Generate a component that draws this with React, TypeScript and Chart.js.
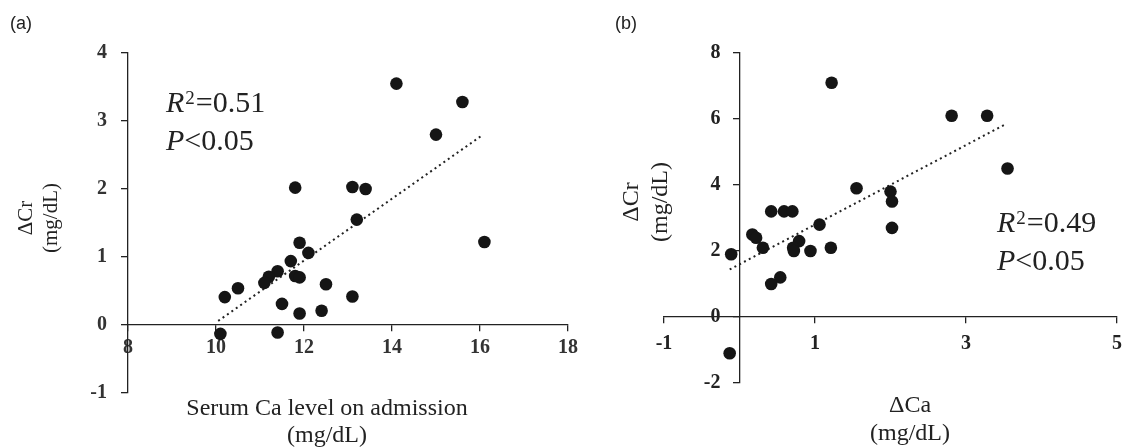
import React, { useEffect, useRef } from 'react';
import { Chart, registerables } from 'chart.js';

Chart.register(...registerables);

// ---------- Panel (a): Serum Ca on admission vs ΔCr ----------
const caAdmission = [11.8, 13.1, 13.4, 13.2, 11.9, 12.1, 11.7, 11.4, 11.2, 11.1, 11.8, 11.9, 10.5, 10.2, 12.5, 13.1, 11.5, 11.9, 12.4, 10.1, 11.4, 14.1, 15.6, 15.0, 16.1];
const crChangeA = [2.02, 2.03, 2.0, 1.55, 1.21, 1.06, 0.94, 0.79, 0.71, 0.62, 0.72, 0.7, 0.54, 0.41, 0.6, 0.42, 0.31, 0.17, 0.21, -0.13, -0.11, 3.55, 3.28, 2.8, 1.22];
const trendAX = [10.05, 16.05];
const trendAY = [0.06, 2.79];
const xTicksA = [8, 10, 12, 14, 16, 18];
const yTicksA = [-1, 0, 1, 2, 3, 4];

// ---------- Panel (b): ΔCa vs ΔCr ----------
const caChange = [1.22, 1.55, 0.42, 0.59, 0.7, 0.17, 0.22, 0.31, 1.06, 0.79, 0.71, 0.72, 0.94, 1.21, -0.11, 0.54, 0.42, -0.13, 2.81, 3.28, 3.55, 2.0, 2.02, 2.02];
const crChangeB = [7.1, 3.9, 3.2, 3.2, 3.2, 2.5, 2.4, 2.1, 2.8, 2.3, 2.1, 2.0, 2.0, 2.1, 1.9, 1.2, 1.0, -1.1, 6.1, 6.1, 4.5, 3.8, 3.5, 2.7];
const trendBX = [-0.13, 3.54];
const trendBY = [1.44, 5.86];
const xTicksB = [-1, 1, 3, 5];
const yTicksB = [-2, 0, 2, 4, 6, 8];

const W = 1131;
const H = 448;
const SERIF = '"Liberation Serif", "Times New Roman", serif';
const INK = '#222';

function zip(xs: number[], ys: number[]) {
  return xs.map((x, i) => ({ x, y: ys[i] }));
}

function drawStat(ctx: CanvasRenderingContext2D, x: number, y: number, r2: string, p: string) {
  ctx.fillStyle = INK;
  ctx.textAlign = 'left';
  ctx.textBaseline = 'alphabetic';
  ctx.font = `italic 30px ${SERIF}`;
  ctx.fillText('R', x, y);
  const wR = ctx.measureText('R').width;
  ctx.font = `19px ${SERIF}`;
  ctx.fillText('2', x + wR + 1, y - 8);
  const w2 = ctx.measureText('2').width;
  ctx.font = `30px ${SERIF}`;
  ctx.fillText('=' + r2, x + wR + w2 + 2, y);
  ctx.font = `italic 30px ${SERIF}`;
  ctx.fillText('P', x, y + 38);
  const wP = ctx.measureText('P').width;
  ctx.font = `30px ${SERIF}`;
  ctx.fillText('<' + p, x + wP, y + 38);
}

function drawRotated(ctx: CanvasRenderingContext2D, text: string, x: number, y: number, font: string) {
  ctx.save();
  ctx.translate(x, y);
  ctx.rotate(-Math.PI / 2);
  ctx.font = font;
  ctx.fillStyle = INK;
  ctx.textAlign = 'center';
  ctx.textBaseline = 'alphabetic';
  ctx.fillText(text, 0, 0);
  ctx.restore();
}

function drawCentered(ctx: CanvasRenderingContext2D, text: string, x: number, y: number, font: string) {
  ctx.font = font;
  ctx.fillStyle = INK;
  ctx.textAlign = 'center';
  ctx.textBaseline = 'alphabetic';
  ctx.fillText(text, x, y);
}

function axisOpts(ticks: number[], min: number, max: number, pos: any, pad: number, tickColor: string) {
  return {
    type: 'linear',
    min,
    max,
    position: pos,
    afterBuildTicks: (s: any) => {
      s.ticks = ticks.map((v) => ({ value: v }));
    },
    ticks: {
      font: { family: SERIF, size: 20, weight: 'bold' },
      color: tickColor,
      padding: pad,
      autoSkip: false,
      maxRotation: 0,
      callback: (v: any) => String(v),
    },
    grid: {
      drawOnChartArea: false,
      drawTicks: true,
      tickLength: 6,
      color: '#222',
      lineWidth: 1.3,
    },
    border: { display: true, color: '#222', width: 1.3 },
  };
}

// Chart.js ignores tick length + padding for y axes placed at a data value;
// move the label column left of the axis line by the wanted gap.
function yLabelGapPlugin(gap: number) {
  return {
    id: 'yLabelGap',
    beforeDraw(chart: any) {
      const s = chart.scales.y;
      if (!s || typeof s.getLabelItems !== 'function') return;
      const pos = s.options.position;
      const key = Object.keys(pos)[0];
      const axisX = chart.scales[key].getPixelForValue(pos[key]);
      const items = s.getLabelItems(chart.chartArea) || [];
      items.forEach((it: any) => {
        if (it && it.options && Array.isArray(it.options.translation)) {
          it.options.translation[0] = axisX - gap;
          it.options.textAlign = 'right';
        }
      });
    },
  };
}

function makeConfig(
  pts: { x: number; y: number }[],
  trend: { x: number; y: number }[],
  padding: any,
  x: any,
  y: any,
  yGap: number,
  draw: (ctx: CanvasRenderingContext2D) => void,
) {
  return {
    type: 'scatter',
    data: {
      datasets: [
        {
          data: pts,
          pointRadius: 6.3,
          pointHoverRadius: 6.3,
          backgroundColor: '#151515',
          borderWidth: 0,
          order: 1,
        },
        {
          type: 'line',
          data: trend,
          showLine: true,
          pointRadius: 0,
          borderColor: '#222',
          borderWidth: 2,
          borderDash: [2, 3.4],
          fill: false,
          order: 2,
        },
      ],
    },
    options: {
      animation: false,
      responsive: false,
      maintainAspectRatio: false,
      events: [],
      layout: { padding },
      plugins: { legend: { display: false }, tooltip: { enabled: false }, title: { display: false } },
      scales: { x, y },
    },
    plugins: [
      yLabelGapPlugin(yGap),
      {
        id: 'texts',
        afterDraw(chart: any) {
          const ctx = chart.ctx as CanvasRenderingContext2D;
          ctx.save();
          draw(ctx);
          ctx.restore();
        },
      },
    ],
  };
}

function PanelCanvas({ config }: { config: any }) {
  const ref = useRef<HTMLCanvasElement | null>(null);
  useEffect(() => {
    if (!ref.current) return;
    const chart = new Chart(ref.current, config);
    return () => chart.destroy();
  }, [config]);
  return (
    <canvas
      ref={ref}
      width={W}
      height={H}
      style={{ position: 'absolute', left: 0, top: 0, width: W, height: H, display: 'block' }}
    />
  );
}

const configA = makeConfig(
  zip(caAdmission, crChangeA),
  zip(trendAX, trendAY),
  { left: 128, right: W - 568, top: 53, bottom: H - 393 },
  axisOpts(xTicksA, 8, 18, { y: 0 }, 5, '#333'),
  axisOpts(yTicksA, -1, 4, { x: 8 }, 16, '#333'),
  21,
  (ctx) => {
    ctx.font = '18px "Liberation Sans", Arial, sans-serif';
    ctx.fillStyle = INK;
    ctx.textAlign = 'left';
    ctx.textBaseline = 'alphabetic';
    ctx.fillText('(a)', 10, 29);
    drawStat(ctx, 166, 112, '0.51', '0.05');
    drawRotated(ctx, 'ΔCr', 32, 218, `21px ${SERIF}`);
    drawRotated(ctx, '(mg/dL)', 57, 218, `21px ${SERIF}`);
    drawCentered(ctx, 'Serum Ca level on admission', 327, 415, `24px ${SERIF}`);
    drawCentered(ctx, '(mg/dL)', 327, 442, `24px ${SERIF}`);
  },
);

const configB = makeConfig(
  zip(caChange, crChangeB),
  zip(trendBX, trendBY),
  { left: 664, right: W - 1126, top: 53, bottom: H - 383 },
  axisOpts(xTicksB, -1, 5, { y: 0 }, 9, '#222'),
  axisOpts(yTicksB, -2, 8, { x: 0 }, 13, '#222'),
  19,
  (ctx) => {
    ctx.font = '18px "Liberation Sans", Arial, sans-serif';
    ctx.fillStyle = INK;
    ctx.textAlign = 'left';
    ctx.textBaseline = 'alphabetic';
    ctx.fillText('(b)', 615, 29);
    drawStat(ctx, 997, 232, '0.49', '0.05');
    drawRotated(ctx, 'ΔCr', 638, 202, `24px ${SERIF}`);
    drawRotated(ctx, '(mg/dL)', 667, 202, `24px ${SERIF}`);
    drawCentered(ctx, 'ΔCa', 910, 412, `24px ${SERIF}`);
    drawCentered(ctx, '(mg/dL)', 910, 440, `24px ${SERIF}`);
  },
);

export default function App() {
  return (
    <div style={{ position: 'absolute', left: 0, top: 0, width: W, height: H, background: '#fff', overflow: 'hidden' }}>
      <PanelCanvas config={configA} />
      <PanelCanvas config={configB} />
    </div>
  );
}
